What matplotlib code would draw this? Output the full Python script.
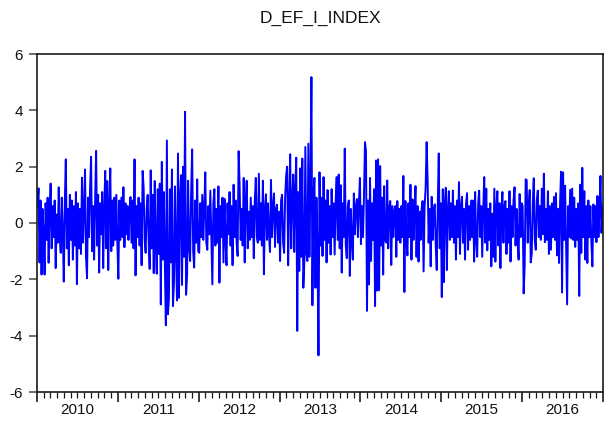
import matplotlib
matplotlib.use("Agg")
import matplotlib.pyplot as plt
import matplotlib.transforms as mtransforms
import numpy as np

plt.rcParams["font.family"] = ["Liberation Sans", "DejaVu Sans"]

TITLE = "D_EF_I_INDEX"
YEARS = [2010, 2011, 2012, 2013, 2014, 2015, 2016]
Y_TICKS = [-6, -4, -2, 0, 2, 4, 6]

# values, roughly one per pixel column, one list per year
v2010 = [
    0.6, 1.23, -1.4, 0.8, -1.83, 0.5, -0.4, -1.83, 0.7, -0.6,
    0.9, -1.41, 0.4, 1.4, -0.9, 0.6, -0.5, 0.8, -1.6, 0.3,
    -0.7, 1.27, -0.5, -1.06, 0.9, -0.3, -2.08, 0.7, 2.26, -0.9,
    0.5, -1.5, 1.0, -0.6, 0.8, -1.3, 0.6, -0.8, 1.1, -2.17,
    0.7, -0.9, 0.5, -1.1, 1.61, -0.7, 0.4, 1.9, -1.2, -1.96,
    0.9, -0.5, 1.2, 2.35, -1.0, 0.6, -1.3, 0.8, 2.56, -0.8,
    1.0, -1.76, 0.7, -0.4, 1.1, -1.6, 0.5, 1.85, -0.9, 1.49,
    -1.67, 0.6, 1.94, -1.0, 0.8, -0.8, 0.9, -0.6, 1.0, -0.7,
]
v2011 = [
    -1.98, 0.8, -0.6, 0.9, -0.5, 1.27, -0.86, 0.7, -0.4, 0.6,
    -0.6, 0.5, 0.92, -0.7, 0.8, -0.9, 2.26, -1.86, 0.6, -0.5,
    0.9, -0.8, 0.7, -1.5, 1.85, 1.27, -0.6, -1.06, 0.5, 1.0,
    -0.7, -1.63, 1.87, -0.9, 1.0, -1.78, 1.49, -0.8, -1.8, 1.2,
    -1.1, 1.4, -2.89, 2.17, -1.3, 1.1, -1.5, -3.63, 2.93, -3.24,
    -2.71, 1.2, -1.4, 1.9, -2.95, -2.12, 1.3, -1.0, -2.75, 2.47,
    -2.66, 0.9, 1.7, -2.2, 2.0, -1.2, 3.95, -2.55, -1.85, 1.5,
    -0.9, -1.35, 1.1, 2.61, -1.0, -1.58, 0.8, -0.7, 1.55, -1.0,
]
v2012 = [
    -1.06, 0.7, -0.5, 1.0, -0.6, 0.5, 1.8, -0.7, -0.95, 0.6,
    -0.4, 1.15, -0.6, -2.18, 0.7, 1.2, -0.8, 0.5, -0.7, 1.3,
    -2.12, 0.6, -0.5, 0.9, -1.4, 0.86, -0.6, -1.5, 0.7, -0.4,
    1.1, -0.8, 0.6, -1.5, 1.36, -0.5, 0.8, -0.7, -1.17, 2.55,
    1.3, -0.6, 0.5, -0.8, 1.6, -1.4, 0.7, 1.5, -0.9, 0.4,
    -0.6, 0.9, -0.5, 0.6, -1.25, 0.8, 1.6, -0.5, -0.7, 1.75,
    -0.6, 0.7, -0.8, 1.5, -1.82, 0.5, 1.02, -0.6, 0.7, -0.4,
    -1.03, 1.53, -0.5, 0.6, 1.05, -0.85, 0.5, 0.65, -0.7, 0.4,
]
v2013 = [
    -1.35, 0.8, 1.0, -0.7, -1.06, 0.9, 1.69, 2.0, -1.5, 0.6,
    2.44, -0.9, 0.8, 1.72, -1.03, 1.2, 2.32, -3.83, 1.1, -1.7,
    1.94, -1.2, 2.29, -2.3, -1.4, 2.7, -1.1, -1.35, 2.82, -1.2,
    1.3, 5.18, -2.92, 1.0, 1.6, -2.3, 0.9, -1.0, -4.7, 1.8,
    -0.8, 0.9, -1.17, 1.63, -0.6, 0.8, -1.4, 1.17, -0.7, 0.6,
    -1.12, 1.2, -0.5, 0.7, -1.12, 0.8, 1.63, -0.6, 1.72, -0.9,
    1.34, -1.76, 0.7, -0.5, 2.64, -0.8, -1.25, 0.6, 0.8, -1.88,
    0.5, -0.6, -1.3, 1.05, -0.4, 0.6, 0.85, -0.5, 0.7, 1.6,
]
v2014 = [
    -0.75, 0.6, -0.5, 0.9, 2.87, 2.55, -3.12, 0.8, -2.18, 1.6,
    -1.35, 0.7, -0.6, 1.2, -2.95, 2.22, -2.4, 2.26, -2.39, 2.02,
    -0.8, 0.9, -1.83, 1.31, -0.6, -0.7, 1.51, -0.9, 0.5, 0.78,
    -1.49, 0.6, -0.5, 0.4, 0.6, -1.2, 0.78, -0.6, 0.5, -0.7,
    0.6, -0.5, 1.67, -2.45, 0.78, -0.6, -1.15, 0.7, -0.5, 1.36,
    -1.3, 0.84, -0.6, 0.5, 1.31, -1.2, 0.6, -1.37, 0.4, -0.6,
    0.5, 0.78, -1.72, 0.6, 1.25, 2.87, 1.5, -0.7, 0.5, -1.54,
    0.93, -0.6, 0.4, 0.66, -0.8, -1.67, 0.6, 2.47, -0.9, 0.7,
]
v2015 = [
    -2.63, 1.2, -2.1, 0.7, 1.25, -1.67, 0.5, 1.13, -0.6, 0.7,
    -0.5, 1.15, -0.7, 0.6, -1.3, 0.8, -0.5, 1.45, -1.1, 0.6,
    0.93, -0.7, 0.5, -1.3, 0.7, 1.06, -0.95, 0.6, -0.6, 0.8,
    -0.5, 0.8, -1.37, 1.1, -0.6, -1.2, 0.7, 1.15, -0.5, 0.6,
    -1.2, 0.5, 1.63, -0.7, 1.22, -0.97, 0.5, -0.6, 0.7, -1.54,
    0.33, -1.2, 1.22, -1.37, 0.6, 1.13, -0.8, 0.7, -1.6, 0.5,
    1.1, -0.7, 0.6, 0.78, -1.1, 0.5, -0.7, 1.13, -1.37, 0.6,
    -0.5, 0.8, 1.27, -0.8, 0.5, -0.6, -1.3, 1.03, -0.5, 0.7,
]
v2016 = [
    0.6, -2.5, -1.5, 1.55, 1.53, -0.7, 0.6, 1.17, -1.4, -1.1,
    0.7, 1.59, -0.6, -0.95, 0.8, 1.15, -0.5, 0.6, -0.6, 1.22,
    -0.4, 1.75, -0.68, 0.5, -0.6, 1.13, -1.1, 0.6, -0.95, 0.7,
    -0.5, 0.93, -0.6, 1.06, -1.15, 0.5, -1.42, 0.7, 1.82, -2.47,
    1.8, -0.6, 1.32, -0.7, -2.89, 0.6, -0.5, 1.18, -0.55, 1.22,
    -0.6, 0.9, -0.85, 0.5, -0.6, 0.7, -2.59, 1.36, -1.06, 1.96,
    -0.5, 1.13, -1.3, 0.6, -1.42, 0.8, -0.5, 0.6, -0.7, -1.54,
    0.66, -0.5, 0.6, -0.68, 0.96, -0.5, 0.4, 1.67, -0.35, 0.6,
]

yearly = [v2010, v2011, v2012, v2013, v2014, v2015, v2016]

# fractional-year time axis, points evenly spread through each year
t = np.concatenate(
    [year + (np.arange(len(vals)) + 0.5) / len(vals) for year, vals in zip(YEARS, yearly)]
)
y = np.concatenate([np.asarray(vals, dtype=float) for vals in yearly])

fig = plt.figure(figsize=(6.13, 4.26), dpi=100)
ax = fig.add_axes([37 / 613, 1 - 392 / 426, 566 / 613, 338 / 426])

ax.plot(t, y, color="#0000FF", linewidth=1.4)

ax.set_xlim(YEARS[0], YEARS[-1] + 1)
ax.set_ylim(-6, 6)
ax.set_yticks(Y_TICKS)
ax.set_yticklabels([str(v) for v in Y_TICKS])

ax.set_xticks([yr for yr in YEARS] + [YEARS[-1] + 1])
ax.set_xticklabels([])
ax.set_xticks(
    [yr + m / 12 for yr in YEARS for m in range(1, 12)], minor=True
)

for side in ["left", "right", "top", "bottom"]:
    ax.spines[side].set_linewidth(1.2)
    ax.spines[side].set_color("#1a1a1a")

ax.tick_params(axis="y", direction="out", length=6, width=1.2, color="#555555",
               labelsize=11, pad=4, labelcolor="#111111")
ax.tick_params(axis="x", which="major", direction="out", length=7, width=1.2,
               color="#1a1a1a")
ax.tick_params(axis="x", which="minor", direction="out", length=4.5, width=0.9,
               color="#1a1a1a")

trans = mtransforms.blended_transform_factory(ax.transData, ax.transAxes)
for yr in YEARS:
    ax.text(yr + 0.5, -0.053, str(yr), transform=trans, ha="center", va="center",
            fontsize=11, color="#111111")

fig.text(320 / 613, 1 - 18 / 426, TITLE, ha="center", va="center", fontsize=12.5,
         color="#111111")

fig.savefig("out.png", dpi=100)
